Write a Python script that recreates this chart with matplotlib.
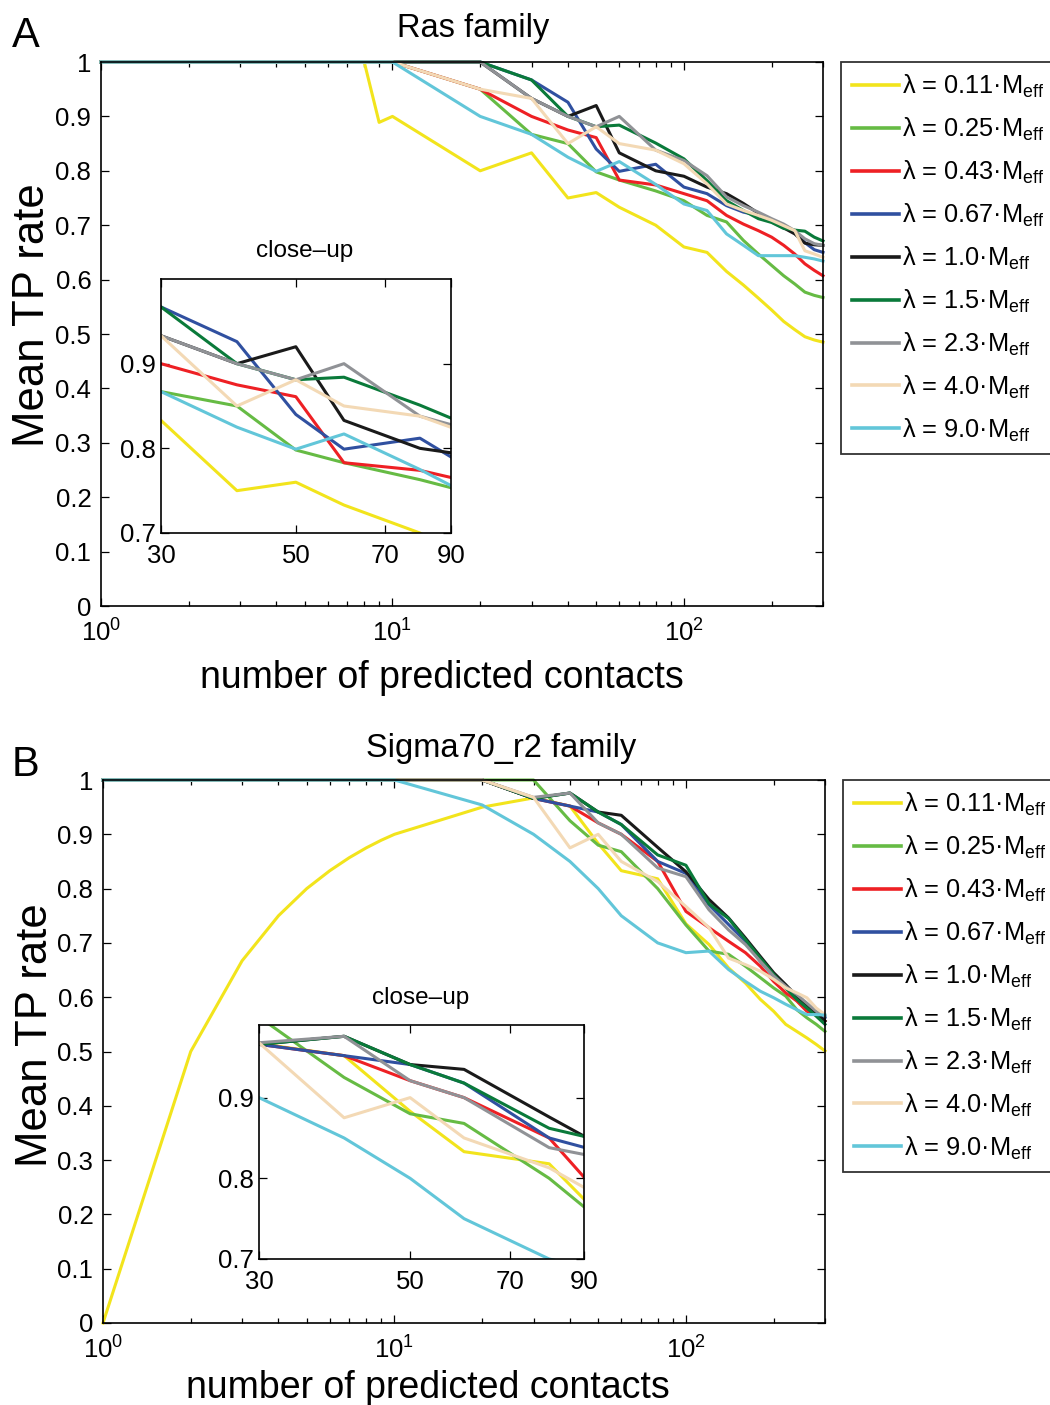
import matplotlib
matplotlib.use("Agg")
import matplotlib.pyplot as plt
from matplotlib.ticker import FixedLocator, FixedFormatter, LogLocator, NullFormatter

plt.rcParams['font.family'] = ['Liberation Sans', 'DejaVu Sans']
plt.rcParams['mathtext.fontset'] = 'custom'
plt.rcParams['mathtext.rm'] = 'Liberation Sans'
plt.rcParams['mathtext.it'] = 'Liberation Sans:italic'

# ---------------- data ----------------
n_contacts = [1, 2, 3, 4, 5, 6, 7, 8, 9, 10, 20, 30, 40, 50, 60, 80, 100,
              120, 140, 160, 180, 200, 220, 240, 260, 280, 300]

labels = ['0.11', '0.25', '0.43', '0.67', '1.0', '1.5', '2.3', '4.0', '9.0']
colors = ['#F2E41C', '#66BB44', '#EE2024', '#3050A0', '#1A1A1A',
          '#0A7A3A', '#909296', '#F3D9B5', '#62C6D9']

ones10 = [1.0] * 10

# Panel A: Ras family
ras_011 = [1, 1, 1, 1, 1, 1, 1, 1, 0.889, 0.9, 0.80, 0.833, 0.75, 0.76, 0.733, 0.70, 0.66,
           0.65, 0.615, 0.59, 0.566, 0.544, 0.523, 0.508, 0.495, 0.489, 0.485]
ras_025 = ones10 + [0.95, 0.867, 0.85, 0.798, 0.783, 0.763, 0.745, 0.718, 0.706, 0.672,
                    0.647, 0.626, 0.607, 0.592, 0.577, 0.571, 0.567]
ras_043 = ones10 + [0.95, 0.90, 0.875, 0.861, 0.783, 0.774, 0.758, 0.745, 0.718, 0.702,
                    0.69, 0.678, 0.663, 0.647, 0.629, 0.617, 0.607]
ras_067 = ones10 + [1.0, 0.967, 0.926, 0.840, 0.799, 0.812, 0.770, 0.758, 0.736, 0.724,
                    0.718, 0.709, 0.696, 0.687, 0.668, 0.655, 0.650]
ras_10 = ones10 + [1.0, 0.933, 0.90, 0.920, 0.833, 0.800, 0.790, 0.770, 0.758, 0.740,
                   0.722, 0.706, 0.695, 0.684, 0.667, 0.664, 0.663]
ras_15 = ones10 + [1.0, 0.967, 0.90, 0.881, 0.884, 0.851, 0.822, 0.782, 0.745, 0.727,
                   0.712, 0.705, 0.694, 0.691, 0.689, 0.678, 0.671]
ras_23 = ones10 + [1.0, 0.933, 0.90, 0.881, 0.90, 0.838, 0.819, 0.791, 0.752, 0.736,
                   0.724, 0.712, 0.702, 0.690, 0.675, 0.666, 0.663]
ras_40 = ones10 + [0.95, 0.933, 0.85, 0.881, 0.85, 0.838, 0.813, 0.776, 0.739, 0.727,
                   0.718, 0.709, 0.699, 0.690, 0.653, 0.647, 0.641]
ras_90 = ones10 + [0.90, 0.867, 0.825, 0.799, 0.817, 0.775, 0.739, 0.727, 0.684, 0.663,
                   0.644, 0.644, 0.644, 0.644, 0.641, 0.638, 0.634]

# Panel B: Sigma70_r2 family
sig_011 = [0.0, 0.5, 0.667, 0.75, 0.8, 0.833, 0.857, 0.875, 0.889, 0.9, 0.95, 0.967, 0.952,
           0.883, 0.833, 0.818, 0.735, 0.697, 0.654, 0.626, 0.596, 0.574, 0.55, 0.537,
           0.525, 0.513, 0.501]
sig_025 = ones10 + [1.0, 1.0, 0.925, 0.880, 0.868, 0.800, 0.733, 0.685, 0.679, 0.657,
                    0.636, 0.617, 0.602, 0.577, 0.562, 0.550, 0.537]
sig_043 = ones10 + [1.0, 0.966, 0.952, 0.921, 0.90, 0.85, 0.758, 0.728, 0.703, 0.682,
                    0.657, 0.629, 0.608, 0.593, 0.574, 0.568, 0.556]
sig_067 = ones10 + [1.0, 0.966, 0.952, 0.941, 0.918, 0.85, 0.828, 0.770, 0.734, 0.703,
                    0.666, 0.639, 0.617, 0.602, 0.586, 0.568, 0.562]
sig_10 = ones10 + [1.0, 0.966, 0.976, 0.941, 0.935, 0.876, 0.831, 0.780, 0.746, 0.709,
                   0.675, 0.645, 0.623, 0.602, 0.586, 0.571, 0.556]
sig_15 = ones10 + [1.0, 0.966, 0.976, 0.941, 0.918, 0.862, 0.843, 0.772, 0.745, 0.706,
                   0.672, 0.642, 0.617, 0.596, 0.580, 0.565, 0.550]
sig_23 = ones10 + [1.0, 0.968, 0.976, 0.921, 0.90, 0.838, 0.822, 0.761, 0.724, 0.697,
                   0.666, 0.639, 0.620, 0.605, 0.589, 0.574, 0.565]
sig_40 = ones10 + [1.0, 0.968, 0.875, 0.90, 0.85, 0.813, 0.767, 0.728, 0.672, 0.660,
                   0.648, 0.633, 0.617, 0.608, 0.599, 0.580, 0.568]
sig_90 = ones10 + [0.954, 0.90, 0.85, 0.80, 0.75, 0.70, 0.682, 0.685, 0.651, 0.629,
                   0.611, 0.599, 0.587, 0.577, 0.568, 0.568, 0.567]

ras_series = [ras_011, ras_025, ras_043, ras_067, ras_10, ras_15, ras_23, ras_40, ras_90]
sig_series = [sig_011, sig_025, sig_043, sig_067, sig_10, sig_15, sig_23, sig_40, sig_90]

main_yticks = [0, 0.1, 0.2, 0.3, 0.4, 0.5, 0.6, 0.7, 0.8, 0.9, 1.0]
main_yticklabels = ['0', '0.1', '0.2', '0.3', '0.4', '0.5', '0.6', '0.7', '0.8', '0.9', '1']
inset_xticks = [30, 50, 70, 90]
inset_yticks = [0.7, 0.8, 0.9]

# ---------------- figure ----------------
W, H = 1050, 1405
fig = plt.figure(figsize=(W / 100, H / 100), dpi=100)


def rect(l, t, r, b):
    return [l / W, 1 - b / H, (r - l) / W, (b - t) / H]


LW = 2.2
TICK_FS = 18.5


def style_axes(ax):
    for s in ax.spines.values():
        s.set_linewidth(1.2)
    ax.tick_params(which='both', direction='in', top=True, right=True,
                   labelsize=TICK_FS, width=0.9)
    ax.tick_params(which='major', length=6)
    ax.tick_params(which='minor', length=3.5)


def draw_panel(ax_box, inset_box, series, inset_top, legend_anchor):
    ax = fig.add_axes(rect(*ax_box))
    for ys, c, lab in zip(series, colors, labels):
        ax.plot(n_contacts, ys, color=c, lw=LW, clip_on=False,
                label='λ = ' + lab + '·M$_{\\mathrm{eff}}$')
    ax.set_xscale('log')
    ax.set_xlim(1, 300)
    ax.set_ylim(0, 1)
    ax.yaxis.set_major_locator(FixedLocator(main_yticks))
    ax.yaxis.set_major_formatter(FixedFormatter(main_yticklabels))
    ax.xaxis.set_major_locator(FixedLocator([1, 10, 100]))
    ax.xaxis.set_major_formatter(FixedFormatter(['$10^{0}$', '$10^{1}$', '$10^{2}$']))
    ax.xaxis.set_minor_locator(LogLocator(base=10, subs=range(2, 10), numticks=20))
    ax.xaxis.set_minor_formatter(NullFormatter())
    style_axes(ax)
    ax.tick_params(axis='x', which='major', pad=10)
    ax.tick_params(axis='y', which='major', pad=7)

    leg = ax.legend(loc='upper left', bbox_to_anchor=(legend_anchor[0] / W, 1 - legend_anchor[1] / H),
                    bbox_transform=fig.transFigure, fontsize=18.3, frameon=True, fancybox=False,
                    edgecolor='black', handlelength=1.85, handletextpad=0.12,
                    labelspacing=0.62, borderpad=0.42, borderaxespad=0)
    leg.get_frame().set_linewidth(1.3)
    for line in leg.get_lines():
        line.set_linewidth(2.6)

    ins = fig.add_axes(rect(*inset_box))
    for ys, c in zip(series, colors):
        ins.plot(n_contacts, ys, color=c, lw=LW)
    ins.set_xscale('log')
    ins.set_xlim(30, 90)
    ins.set_ylim(0.7, inset_top)
    ins.xaxis.set_major_locator(FixedLocator(inset_xticks))
    ins.xaxis.set_major_formatter(FixedFormatter([str(v) for v in inset_xticks]))
    ins.xaxis.set_minor_locator(FixedLocator([]))
    ins.yaxis.set_major_locator(FixedLocator(inset_yticks))
    ins.yaxis.set_major_formatter(FixedFormatter(['0.7', '0.8', '0.9']))
    style_axes(ins)
    ins.tick_params(axis='x', which='major', pad=8)
    ins.tick_params(axis='y', which='major', pad=4)
    return ax, ins


draw_panel((101, 62, 823, 606), (161, 279, 451, 533), ras_series, 1.0, (841, 62))
draw_panel((103, 780, 825, 1323), (259, 1025, 584, 1259), sig_series, 0.99, (843, 780))

# ---------------- texts ----------------
def ftext(x, y, s, **kw):
    fig.text(x / W, 1 - y / H, s, ha=kw.pop('ha', 'center'), va=kw.pop('va', 'center'), **kw)


ftext(12, 36, 'A', ha='left', fontsize=30)
ftext(473, 28, 'Ras family', fontsize=23.5)
ftext(442, 678, 'number of predicted contacts', fontsize=27)
ftext(33, 315, 'Mean TP rate', rotation=90, fontsize=31.5)
ftext(305, 251, 'close–up', fontsize=17.5)

ftext(12, 765, 'B', ha='left', fontsize=30)
ftext(501, 748, 'Sigma70_r2 family', fontsize=23.5)
ftext(428, 1388, 'number of predicted contacts', fontsize=27)
ftext(36, 1035, 'Mean TP rate', rotation=90, fontsize=31.5)
ftext(421, 998, 'close–up', fontsize=17.5)

fig.savefig('out.png', dpi=100)
